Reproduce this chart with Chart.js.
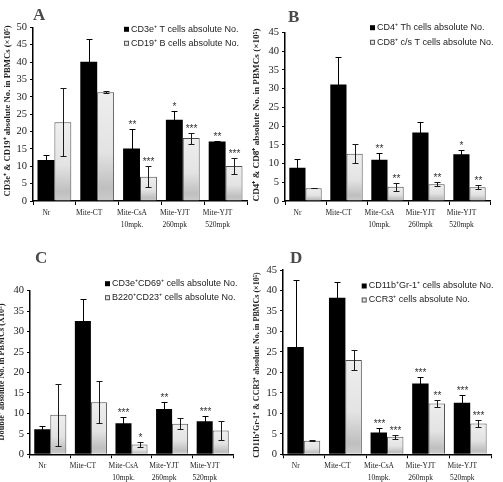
<!DOCTYPE html>
<html><head><meta charset="utf-8">
<script src="https://cdn.jsdelivr.net/npm/chart.js@4/dist/chart.umd.min.js"></script>
<style>
html,body{margin:0;padding:0;background:#fff;}
#wrap{position:relative;width:503px;height:482px;overflow:hidden;background:#fff;}
#wrap canvas{position:absolute;left:0;top:0;}
</style></head><body>
<div id="wrap">
<canvas id="cA" width="503" height="482"></canvas>
<canvas id="cB" width="503" height="482"></canvas>
<canvas id="cC" width="503" height="482"></canvas>
<canvas id="cD" width="503" height="482"></canvas>
</div>
<script>
// ---------- DATA ----------
const categories = [["Nr"], ["Mite-CT"], ["Mite-CsA", "10mpk."], ["Mite-YJT", "260mpk"], ["Mite-YJT", "520mpk"]];

// Panel A
const aBlack    = [11.8, 40.1, 15.1, 23.4, 17.1];
const aBlackErr = [1.4, 6.5, 5.6, 2.5, 0.3];
const aLight    = [22.7, 31.3, 7.0, 18.1, 10.1];
const aLightErr = [9.8, 0.3, 3.1, 1.6, 2.4];
const aBlackSig = ["", "", "**", "*", "**"];
const aLightSig = ["", "", "***", "***", "***"];
const aLegend   = ["CD3e\u207A T cells absolute No.", "CD19\u207A B cells absolute No."];
const aYTitle   = "CD3e\u207A & CD19\u207A absolute No. in PBMCs (\u00D710\u2075)";
const aYMax = 50;

// Panel B
const bBlack    = [8.9, 31.1, 11.0, 18.3, 12.5];
const bBlackErr = [2.2, 7.3, 1.9, 2.8, 1.2];
const bLight    = [3.4, 12.6, 3.8, 4.5, 3.7];
const bLightErr = [0.05, 2.5, 1.0, 0.5, 0.5];
const bBlackSig = ["", "", "**", "", "*"];
const bLightSig = ["", "", "**", "**", "**"];
const bLegend   = ["CD4\u207A Th cells absolute No.", "CD8\u207A c/s T cells absolute No."];
const bYTitle   = "CD4\u207A & CD8\u207A absolute No. in PBMCs (\u00D710\u2075)";
const bYMax = 45;

// Panel C
const cBlack    = [6.1, 32.6, 7.6, 11.1, 8.1];
const cBlackErr = [0.8, 5.4, 1.5, 1.7, 1.3];
const cLight    = [9.7, 12.7, 2.4, 7.5, 5.8];
const cLightErr = [7.6, 5.1, 0.7, 1.3, 2.3];
const cBlackSig = ["", "", "***", "**", "***"];
const cLightSig = ["", "", "*", "", ""];
const cLegend   = ["CD3e\u207ACD69\u207A cells absolute No.", "B220\u207ACD23\u207A cells absolute No."];
const cYTitle   = "Double\u207A absolute No. in PBMCs (X10\u2075)";
const cYMax = 40;

// Panel D
const dBlack    = [26.2, 38.2, 5.3, 17.3, 12.6];
const dBlackErr = [16.4, 3.8, 1.1, 1.5, 2.0];
const dLight    = [3.3, 23.0, 4.3, 12.4, 7.5];
const dLightErr = [0.1, 2.5, 0.5, 0.8, 0.8];
const dBlackSig = ["", "", "***", "***", "***"];
const dLightSig = ["", "", "***", "**", "***"];
const dLegend   = ["CD11b\u207AGr-1\u207A cells absolute No.", "CCR3\u207A cells absolute No."];
const dYTitle   = "CD11b\u207AGr-1\u207A & CCR3\u207A absolute No. in PBMCs (\u00D710\u2075)";
const dYMax = 45;

const panelLetters = ["A", "B", "C", "D"];

// ---------- LAYOUT (positions / styles) ----------
const W = 503, H = 482;
const YW = 30;
const SERIF = '"Liberation Serif", "Times New Roman", serif';
const SANS = '"Liberation Sans", Arial, sans-serif';

const panels = [
  { id: 'cA', letter: panelLetters[0], max: aYMax, vals: [aBlack, aLight], errs: [aBlackErr, aLightErr], sigs: [aBlackSig, aLightSig], legend: aLegend, title: aYTitle,
    area: {l: 33, r: 247, t: 27.3, b: 201}, let: {x: 33, y: 20}, leg: {x: 124, y1: 29.3, y2: 43.3}, tt: {x: 7.3, y: 111, len: 172} },
  { id: 'cB', letter: panelLetters[1], max: bYMax, vals: [bBlack, bLight], errs: [bBlackErr, bLightErr], sigs: [bBlackSig, bLightSig], legend: bLegend, title: bYTitle,
    area: {l: 285, r: 490, t: 32.3, b: 201}, let: {x: 288, y: 22}, leg: {x: 370, y1: 27.7, y2: 42.3}, tt: {x: 256.7, y: 115, len: 174} },
  { id: 'cC', letter: panelLetters[2], max: cYMax, vals: [cBlack, cLight], errs: [cBlackErr, cLightErr], sigs: [cBlackSig, cLightSig], legend: cLegend, title: cYTitle,
    area: {l: 30, r: 233, t: 290.7, b: 454.3}, let: {x: 35, y: 263}, leg: {x: 105, y1: 283.7, y2: 297.7}, tt: {x: 1.7, y: 372, len: 137} },
  { id: 'cD', letter: panelLetters[3], max: dYMax, vals: [dBlack, dLight], errs: [dBlackErr, dLightErr], sigs: [dBlackSig, dLightSig], legend: dLegend, title: dYTitle,
    area: {l: 283, r: 491, t: 270, b: 454.3}, let: {x: 290, y: 263}, leg: {x: 361.7, y1: 286, y2: 300}, tt: {x: 256.7, y: 365, len: 186} }
];

function lightFill(c) {
  const ch = c.chart, ys = ch.scales && ch.scales.y;
  if (c.type !== 'data' || !ys) return '#e4e4e4';
  const top = ys.getPixelForValue(c.raw), bot = ys.getPixelForValue(0);
  if (!isFinite(top) || !isFinite(bot) || bot - top < 1) return '#e4e4e4';
  const g = ch.ctx.createLinearGradient(0, top, 0, bot);
  g.addColorStop(0, '#eeeeee');
  g.addColorStop(0.55, '#e3e3e3');
  g.addColorStop(0.88, '#bfbfbf');
  g.addColorStop(1, '#cbcbcb');
  return g;
}

function makePlugin(p) {
  return {
    id: 'extras_' + p.id,
    afterDatasetsDraw(chart) {
      const ctx = chart.ctx, ys = chart.scales.y;
      ctx.save();
      [0, 1].forEach(d => {
        const meta = chart.getDatasetMeta(d);
        meta.data.forEach((bar, i) => {
          const v = p.vals[d][i], e = p.errs[d][i];
          const x = Math.round(bar.x) + 0.5;
          const hi = Math.round(ys.getPixelForValue(v + e)) + 0.5;
          const lo = Math.round(ys.getPixelForValue(Math.max(0, v - e))) + 0.5;
          ctx.strokeStyle = d === 0 ? '#000' : '#1a1a1a';
          ctx.lineWidth = 1;
          ctx.beginPath();
          ctx.moveTo(x, lo); ctx.lineTo(x, hi);
          ctx.moveTo(x - 3, hi); ctx.lineTo(x + 3, hi);
          ctx.moveTo(x - 3, lo); ctx.lineTo(x + 3, lo);
          ctx.stroke();
          const s = p.sigs[d][i];
          if (s) {
            ctx.fillStyle = '#333';
            ctx.font = '10px ' + SANS;
            ctx.textAlign = 'center';
            ctx.textBaseline = 'alphabetic';
            ctx.fillText(s, x, hi - 2);
          }
        });
      });
      ctx.restore();
    },
    afterDraw(chart) {
      const ctx = chart.ctx;
      ctx.save();
      // panel letter
      ctx.fillStyle = '#4a4a4a';
      ctx.font = 'bold 17px ' + SERIF;
      ctx.textAlign = 'left';
      ctx.textBaseline = 'alphabetic';
      ctx.fillText(p.letter, p.let.x, p.let.y);
      // legend
      const L = p.leg;
      ctx.fillStyle = '#000';
      ctx.fillRect(L.x, L.y1 - 2.5, 5, 5);
      ctx.fillStyle = '#e6e6e6';
      ctx.fillRect(L.x, L.y2 - 2.5, 5, 5);
      ctx.strokeStyle = '#555';
      ctx.lineWidth = 1;
      ctx.strokeRect(L.x + 0.5, L.y2 - 2.5 + 0.5, 4, 4);
      ctx.fillStyle = '#222';
      ctx.font = '9px ' + SANS;
      ctx.textBaseline = 'middle';
      ctx.fillText(p.legend[0], L.x + 7, L.y1);
      ctx.fillText(p.legend[1], L.x + 7, L.y2);
      // y axis title
      ctx.translate(p.tt.x, p.tt.y);
      ctx.rotate(-Math.PI / 2);
      let fs = 8;
      ctx.font = 'bold ' + fs + 'px ' + SERIF;
      const w = ctx.measureText(p.title).width;
      fs = fs * p.tt.len / w;
      ctx.font = 'bold ' + fs.toFixed(2) + 'px ' + SERIF;
      ctx.fillStyle = '#222';
      ctx.textAlign = 'center';
      ctx.textBaseline = 'middle';
      ctx.fillText(p.title, 0, 0);
      ctx.restore();
    }
  };
}

panels.forEach(p => {
  const a = p.area;
  const xh = H - a.b;
  new Chart(document.getElementById(p.id), {
    type: 'bar',
    data: {
      labels: categories,
      datasets: [
        { data: p.vals[0], backgroundColor: '#000', borderWidth: 0, categoryPercentage: 0.79, barPercentage: 1 },
        { data: p.vals[1], backgroundColor: lightFill, borderColor: '#4d4d4d', borderWidth: 1, categoryPercentage: 0.79, barPercentage: 1 }
      ]
    },
    options: {
      responsive: false,
      devicePixelRatio: 1,
      animation: false,
      events: [],
      layout: { padding: { left: a.l - YW, right: W - a.r, top: a.t, bottom: 0 } },
      plugins: { legend: { display: false }, tooltip: { enabled: false } },
      scales: {
        x: {
          offset: true,
          grid: { display: true, drawOnChartArea: false, drawTicks: true, tickLength: 4, color: '#000', offset: true },
          border: { display: true, color: '#000', width: 1.5 },
          ticks: { font: { family: SERIF, size: 7.5, lineHeight: 1.6 }, color: '#222', padding: 2, labelOffset: -8, maxRotation: 0, autoSkip: false },
          afterFit(s) { s.height = xh; }
        },
        y: {
          min: 0, max: p.max,
          grid: { display: true, drawOnChartArea: false, drawTicks: true, tickLength: 3, color: '#000' },
          border: { display: true, color: '#000', width: 1.5 },
          ticks: { stepSize: 5, font: { family: SERIF, size: 10.5 }, color: '#222', padding: 3 },
          afterFit(s) { s.width = YW; }
        }
      }
    },
    plugins: [makePlugin(p)]
  });
});
</script>
</body></html>
